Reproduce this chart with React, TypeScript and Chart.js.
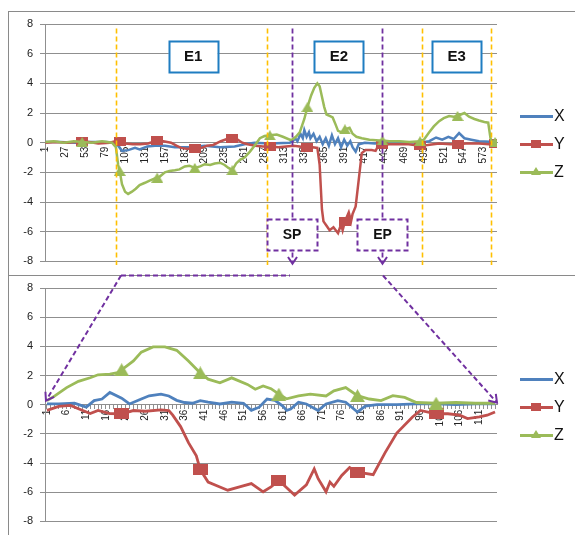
import React, { useEffect, useRef } from 'react';
import { Chart, registerables } from 'chart.js';
Chart.register(...registerables);

// ---------------- data ----------------
const seriesNames = ['X', 'Y', 'Z'];
const seriesColors = ['#4F81BD', '#C0504D', '#9BBB59'];

const topCategoryCount = 590;
const topTickLabels = [1, 27, 53, 79, 105, 131, 157, 183, 209, 235, 261, 287, 313, 339, 365, 391, 417, 443, 469, 495, 521, 547, 573];
const topMarkerIdx = [49, 98, 147, 196, 245, 294, 343, 392, 441, 490, 539, 588];

const topX: [number, number][] = [
  [1, 0.05], [20, 0.05], [40, 0.0], [60, 0.05], [80, 0.05], [92, 0.0], [96, -0.2], [101, -0.55], [109, -0.5], [118, -0.35],
  [124, -0.45], [134, -0.25], [144, -0.2], [157, -0.2], [170, -0.3], [189, -0.3], [209, -0.2], [229, -0.3], [248, -0.25],
  [261, -0.1], [274, 0.0], [294, -0.05], [320, 0.0], [324, 0.1], [327, 0.3], [330, 0.1], [334, 0.6], [337, 0.3], [339, 0.85],
  [342, 0.4], [345, 0.7], [347, 0.3], [351, 0.6], [355, 0.1], [359, 0.4], [363, -0.1], [367, 0.3], [371, -0.2], [375, 0.5],
  [379, -0.1], [383, 0.3], [387, -0.3], [391, 0.2], [395, -0.2], [399, 0.1], [402, -0.3], [406, -0.6], [410, -0.1], [418, 0.0],
  [431, -0.05], [444, 0.0], [463, 0.05], [489, 0.0], [502, 0.1], [511, 0.35], [519, 0.2], [527, 0.4], [534, 0.25], [541, 0.65],
  [548, 0.3], [557, 0.2], [567, 0.1], [590, 0.05],
];
const topY: [number, number][] = [
  [1, 0.0], [15, 0.05], [30, 0.0], [40, 0.05], [49, 0.1], [58, 0.05], [70, -0.05], [85, 0.0], [92, 0.1], [98, 0.1], [105, -0.05],
  [115, -0.1], [125, -0.1], [135, -0.05], [147, 0.15], [155, 0.1], [165, 0.0], [172, -0.2], [178, -0.35], [185, -0.4], [196, -0.4],
  [205, -0.35], [212, -0.2], [220, -0.15], [230, 0.1], [238, 0.25], [245, 0.3], [252, 0.2], [258, 0.0], [265, -0.1], [275, -0.2],
  [285, -0.25], [294, -0.25], [305, -0.3], [315, -0.25], [325, -0.2], [333, -0.25], [343, -0.35], [350, -0.3], [356, -0.35],
  [359, -1.5], [362, -4.5], [364, -5.3], [368, -5.6], [372, -5.9], [377, -5.7], [383, -6.1], [387, -5.5], [389, -5.9], [392, -5.3],
  [397, -4.7], [400, -5.3], [402, -4.8], [406, -4.3], [410, -2.5], [414, -0.7], [419, -0.5], [427, -0.5], [432, -0.55], [436, -0.15],
  [441, -0.15], [450, -0.1], [463, -0.1], [475, -0.1], [490, -0.2], [500, -0.15], [515, -0.05], [530, -0.1], [539, -0.1],
  [550, -0.05], [567, -0.05], [580, -0.1], [588, -0.05], [590, -0.05],
];
const topZ: [number, number][] = [
  [1, 0.05], [12, 0.1], [25, 0.0], [38, 0.1], [49, 0.05], [62, 0.0], [75, 0.1], [88, 0.0], [93, -0.3], [96, -1.5], [98, -1.9],
  [101, -2.8], [105, -3.3], [109, -3.45], [114, -3.3], [119, -3.1], [124, -2.85], [131, -2.7], [137, -2.55], [144, -2.4],
  [147, -2.35], [150, -2.3], [157, -2.0], [163, -1.9], [170, -1.85], [176, -1.8], [183, -1.6], [189, -1.55], [196, -1.7],
  [203, -1.6], [209, -1.45], [216, -1.5], [222, -1.4], [229, -1.35], [235, -1.5], [240, -1.7], [245, -1.85], [250, -1.4],
  [255, -1.15], [261, -1.0], [268, -0.6], [274, -0.2], [281, 0.3], [287, 0.45], [294, 0.5], [303, 0.55], [311, 0.4], [320, 0.2],
  [323, 0.2], [328, 0.4], [333, 0.7], [339, 1.6], [343, 2.4], [348, 3.2], [352, 3.7], [356, 4.0], [359, 3.8], [362, 3.1],
  [365, 2.4], [368, 1.9], [372, 1.8], [376, 1.7], [380, 1.2], [383, 0.8], [388, 0.7], [392, 0.9], [398, 1.0], [402, 0.6],
  [407, 0.4], [414, 0.3], [424, 0.2], [437, 0.15], [441, 0.15], [450, 0.1], [463, 0.1], [476, 0.05], [490, 0.1], [495, 0.2],
  [502, 0.7], [508, 1.1], [515, 1.45], [521, 1.65], [528, 1.8], [534, 1.75], [539, 1.8], [541, 1.85], [548, 2.0], [554, 1.75],
  [561, 1.6], [567, 1.5], [574, 1.4], [579, 1.35], [582, 0.3], [584, 0.05], [588, 0.05], [590, 0.0],
];

// event boundaries (top chart sample index)
const eventBounds = [93, 290, 493, 583];
const eventNames = ['E1', 'E2', 'E3'];
const spIdx = 323;
const epIdx = 441;
const spepNames = ['SP', 'EP'];

const bottomCategoryCount = 115;
const bottomTickLabels = [1, 6, 11, 16, 21, 26, 31, 36, 41, 46, 51, 56, 61, 66, 71, 76, 81, 86, 91, 96, 101, 106, 111];
const bottomMarkerIdx = [20, 40, 60, 80, 100];

const bottomX: [number, number][] = [
  [1, 0.05], [4, 0.05], [8, 0.1], [11, -0.17], [13, 0.28], [15, 0.39], [17, 0.84], [20, 0.45], [22, 0.05], [25, 0.39], [27, 0.61],
  [30, 0.73], [32, 0.6], [34, 0.3], [36, 0.15], [38, 0.1], [40, 0.28], [42, 0.17], [45, 0.05], [48, 0.17], [51, 0.1], [53, -0.39],
  [55, -0.17], [57, 0.39], [59, 0.3], [61, -0.1], [62, -0.39], [63, -0.3], [65, 0.17], [67, 0.05], [70, -0.4], [72, 0.05],
  [75, 0.28], [77, 0.17], [80, -0.5], [82, -0.1], [85, 0.0], [90, 0.0], [95, 0.05], [100, 0.05], [105, 0.0], [110, 0.05], [115, 0.05],
];
const bottomY: [number, number][] = [
  [1, -0.39], [4, -0.12], [7, -0.05], [9, -0.28], [12, -0.61], [14, -0.39], [17, -0.61], [20, -0.62], [23, -0.4], [26, -0.45],
  [30, -0.35], [32, -0.4], [33, -0.72], [35, -1.5], [37, -2.6], [39, -3.5], [40, -4.45], [42, -5.3], [45, -5.64], [47, -5.86],
  [50, -5.64], [53, -5.41], [56, -5.97], [58, -5.64], [60, -5.19], [62, -5.7], [64, -6.2], [67, -5.5], [69, -4.4], [70, -5.07],
  [72, -5.97], [73, -5.3], [74, -5.6], [76, -4.85], [78, -4.3], [80, -4.63], [84, -4.8], [87, -3.3], [90, -1.95], [94, -0.84],
  [96, -0.39], [100, -0.62], [103, -0.62], [106, -0.72], [108, -0.95], [111, -0.84], [113, -0.72], [115, -0.5],
];
const bottomZ: [number, number][] = [
  [1, 0.28], [3, 0.6], [6, 1.17], [9, 1.6], [12, 1.85], [14, 2.05], [17, 2.1], [19, 2.2], [20, 2.4], [21, 2.6], [23, 3.0],
  [25, 3.6], [28, 3.96], [31, 3.96], [34, 3.73], [37, 3.0], [40, 2.18], [42, 1.75], [45, 1.5], [48, 1.84], [52, 1.39],
  [54, 1.06], [56, 1.28], [58, 1.1], [60, 0.72], [62, 0.4], [65, 0.6], [68, 0.72], [72, 0.6], [74, 0.95], [77, 1.17],
  [80, 0.62], [83, 0.39], [86, 0.28], [89, 0.62], [92, 0.5], [95, 0.15], [100, 0.1], [105, 0.15], [110, 0.1], [115, 0.1],
];

// ---------------- layout / style ----------------
const FONT = '"Liberation Sans", Arial, sans-serif';
const GRID = '#8f8f8f';
const PURPLE = '#7030A0';
const YELLOW = '#FFC000';
const EBLUE = '#1F7DC1';
const W = 575;
const TOP_CANVAS = { top: 0, height: 275 };
const BOT_CANVAS = { top: 272, height: 263 };
const PLOT_LEFT = 45;
const PLOT_RIGHT = 497;
const ANNO = {
  lineTopValue: 7.7,
  lineBottomValue: -8.25,
  arrowTipValue: -8.15,
  eventLabelIdx: [194, 384, 538],
  eventLabelValue: 5.82,
  eventBox: [49, 31],
  spepValue: -6.16,
  spepBox: [50, 31],
  connectorY: 3.5,
  connectorLeftX: 121,
  connectorMidX: 290,
  connectorRightX: 383,
};

function toPts(arr: [number, number][]) {
  return arr.map(([x, y]) => ({ x, y }));
}

function makeRect(w: number, h: number, color: string) {
  const c = document.createElement('canvas');
  c.width = w; c.height = h;
  const g = c.getContext('2d')!;
  g.fillStyle = color; g.fillRect(0, 0, w, h);
  return c;
}
function makeTri(w: number, h: number, color: string) {
  const c = document.createElement('canvas');
  c.width = w; c.height = h;
  const g = c.getContext('2d')!;
  g.fillStyle = color;
  g.beginPath(); g.moveTo(w / 2, 0); g.lineTo(w, h); g.lineTo(0, h); g.closePath(); g.fill();
  return c;
}

function arrowHead(ctx: CanvasRenderingContext2D, x0: number, y0: number, x1: number, y1: number, len: number) {
  const a = Math.atan2(y1 - y0, x1 - x0);
  ctx.beginPath();
  ctx.moveTo(x1 - len * Math.cos(a - 0.6), y1 - len * Math.sin(a - 0.6));
  ctx.lineTo(x1, y1);
  ctx.lineTo(x1 - len * Math.cos(a + 0.6), y1 - len * Math.sin(a + 0.6));
  ctx.stroke();
}

function labelBox(ctx: CanvasRenderingContext2D, cx: number, cy: number, w: number, h: number, color: string, dashed: boolean, text: string, size: number) {
  ctx.save();
  ctx.fillStyle = '#ffffff';
  ctx.fillRect(cx - w / 2, cy - h / 2, w, h);
  ctx.strokeStyle = color;
  ctx.lineWidth = 2;
  ctx.setLineDash(dashed ? [5, 3] : []);
  ctx.strokeRect(Math.round(cx - w / 2) + 0.5, Math.round(cy - h / 2) + 0.5, w, h);
  ctx.fillStyle = '#111';
  ctx.font = `bold ${size}px ${FONT}`;
  ctx.textAlign = 'center';
  ctx.textBaseline = 'middle';
  ctx.fillText(text, cx, cy + 1);
  ctx.restore();
}

const topAnnoPlugin = {
  id: 'topAnno',
  afterDraw(chart: any) {
    const { ctx } = chart;
    const xs = chart.scales.x;
    const ys = chart.scales.y;
    ctx.save();
    ctx.lineWidth = 1.6;
    ctx.setLineDash([5, 3]);
    ctx.strokeStyle = YELLOW;
    eventBounds.forEach((v) => {
      const px = Math.round(xs.getPixelForValue(v)) + 0.5;
      ctx.beginPath();
      ctx.moveTo(px, ys.getPixelForValue(ANNO.lineTopValue));
      ctx.lineTo(px, ys.getPixelForValue(ANNO.lineBottomValue));
      ctx.stroke();
    });
    ctx.strokeStyle = PURPLE;
    ctx.lineWidth = 1.8;
    const tip = ys.getPixelForValue(ANNO.arrowTipValue);
    [spIdx, epIdx].forEach((v) => {
      const px = Math.round(xs.getPixelForValue(v)) + 0.5;
      ctx.setLineDash([5, 3]);
      ctx.beginPath();
      ctx.moveTo(px, ys.getPixelForValue(ANNO.lineTopValue));
      ctx.lineTo(px, tip - 1);
      ctx.stroke();
      ctx.setLineDash([]);
      ctx.lineWidth = 2;
      arrowHead(ctx, px, tip - 20, px, tip, 8);
      ctx.lineWidth = 1.8;
    });
    ctx.restore();
    eventNames.forEach((name, i) => {
      labelBox(ctx, xs.getPixelForValue(ANNO.eventLabelIdx[i]), ys.getPixelForValue(ANNO.eventLabelValue),
        ANNO.eventBox[0], ANNO.eventBox[1], EBLUE, false, name, 15);
    });
    [spIdx, epIdx].forEach((v, i) => {
      labelBox(ctx, xs.getPixelForValue(v), ys.getPixelForValue(ANNO.spepValue),
        ANNO.spepBox[0], ANNO.spepBox[1], PURPLE, true, spepNames[i], 14);
    });
  },
};

const bottomAnnoPlugin = {
  id: 'bottomAnno',
  afterDraw(chart: any) {
    const { ctx } = chart;
    const xs = chart.scales.x;
    const ys = chart.scales.y;
    const y0 = ys.getPixelForValue(0);
    ctx.save();
    ctx.strokeStyle = PURPLE;
    ctx.lineWidth = 2;
    ctx.setLineDash([5, 3]);
    const cy = ANNO.connectorY;
    ctx.beginPath();
    ctx.moveTo(ANNO.connectorLeftX, cy);
    ctx.lineTo(ANNO.connectorMidX, cy);
    ctx.stroke();
    const lx = xs.getPixelForValue(1) - 1;
    const ly = y0 - 4;
    ctx.beginPath(); ctx.moveTo(ANNO.connectorLeftX, cy); ctx.lineTo(lx, ly); ctx.stroke();
    const rx = xs.right;
    const ry = y0 - 2;
    ctx.beginPath(); ctx.moveTo(ANNO.connectorRightX, cy); ctx.lineTo(rx, ry); ctx.stroke();
    ctx.setLineDash([]);
    arrowHead(ctx, ANNO.connectorLeftX, cy, lx, ly, 9);
    arrowHead(ctx, ANNO.connectorRightX, cy, rx, ry, 9);
    ctx.restore();
  },
};

function makeOptions(kind: 'top' | 'bottom') {
  const isTop = kind === 'top';
  const canvasH = isTop ? TOP_CANVAS.height : BOT_CANVAS.height;
  const plotTop = isTop ? 24 : 16;
  const plotBottom = isTop ? 262.5 : 255;
  const count = isTop ? topCategoryCount : bottomCategoryCount;
  return {
    responsive: false,
    animation: false,
    events: [],
    layout: { padding: { left: 0, top: plotTop, right: W - PLOT_RIGHT, bottom: canvasH - plotBottom } },
    plugins: { legend: { display: false }, tooltip: { enabled: false } },
    scales: {
      x: {
        type: 'linear',
        position: { y: 0 },
        min: 0.5,
        max: count + 0.5,
        afterBuildTicks: (s: any) => {
          s.ticks = isTop
            ? topTickLabels.map((v) => ({ value: v }))
            : Array.from({ length: bottomCategoryCount }, (_, i) => ({ value: i + 1 }));
        },
        ticks: {
          autoSkip: false,
          minRotation: 90,
          maxRotation: 90,
          padding: isTop ? 4 : 1,
          color: '#222',
          font: { family: FONT, size: 10 },
          callback: (v: number) => (isTop ? String(v) : bottomTickLabels.includes(v) ? String(v) : ''),
        },
        grid: { drawOnChartArea: false, drawTicks: !isTop, tickLength: 4, color: GRID },
        border: { color: GRID, width: 1 },
      },
      y: {
        min: -8,
        max: 8,
        afterFit: (s: any) => { s.width = PLOT_LEFT; },
        ticks: { stepSize: 2, padding: 7, color: '#222', font: { family: FONT, size: 11 } },
        grid: { color: GRID, tickLength: 5, lineWidth: 1 },
        border: { color: GRID, width: 1 },
      },
    },
  };
}

function makeDatasets(kind: 'top' | 'bottom') {
  const isTop = kind === 'top';
  const sets = isTop ? [topX, topY, topZ] : [bottomX, bottomY, bottomZ];
  const markers = new Set(isTop ? topMarkerIdx : bottomMarkerIdx);
  const rect = isTop ? makeRect(12, 9, seriesColors[1]) : makeRect(15, 11, seriesColors[1]);
  const tri = isTop ? makeTri(12, 10, seriesColors[2]) : makeTri(15, 13, seriesColors[2]);
  return sets.map((arr, i) => ({
    label: seriesNames[i],
    data: toPts(arr),
    borderColor: seriesColors[i],
    backgroundColor: seriesColors[i],
    borderWidth: isTop ? 2.5 : 2.8,
    tension: 0,
    order: 2 - i,
    pointStyle: i === 1 ? rect : i === 2 ? tri : 'circle',
    pointRadius: (c: any) => (i > 0 && c.raw && markers.has(c.raw.x) ? 5 : 0),
  }));
}

function ChartCanvas({ kind, top, height }: { kind: 'top' | 'bottom'; top: number; height: number }) {
  const ref = useRef<HTMLCanvasElement | null>(null);
  useEffect(() => {
    if (!ref.current) return;
    const chart = new Chart(ref.current, {
      type: 'line',
      data: { datasets: makeDatasets(kind) as any },
      options: makeOptions(kind) as any,
      plugins: [kind === 'top' ? topAnnoPlugin : bottomAnnoPlugin],
    });
    return () => chart.destroy();
  }, [kind]);
  return (
    <canvas ref={ref} width={W} height={height}
      style={{ position: 'absolute', left: 0, top, width: W, height }} />
  );
}

function Legend({ top }: { top: number }) {
  return (
    <>
      {seriesNames.map((name, i) => {
        const cy = top + i * 28;
        return (
          <React.Fragment key={name}>
            <div style={{ position: 'absolute', left: 520, top: cy - 1.5, width: 33, height: 3, background: seriesColors[i] }} />
            {i === 1 && (
              <div style={{ position: 'absolute', left: 531, top: cy - 4, width: 10, height: 8, background: seriesColors[1] }} />
            )}
            {i === 2 && (
              <div style={{
                position: 'absolute', left: 531, top: cy - 5, width: 0, height: 0,
                borderLeft: '5px solid transparent', borderRight: '5px solid transparent',
                borderBottom: `8px solid ${seriesColors[2]}`,
              }} />
            )}
            <div style={{
              position: 'absolute', left: 554, top: cy - 10, height: 20, lineHeight: '20px',
              fontFamily: FONT, fontSize: 16, color: '#111',
            }}>{name}</div>
          </React.Fragment>
        );
      })}
    </>
  );
}

export default function App() {
  return (
    <div style={{ position: 'absolute', left: 0, top: 0, width: W, height: 535, overflow: 'hidden', background: '#fff' }}>
      <div style={{ position: 'absolute', left: 8, top: 11, width: 600, height: 264, borderTop: '1px solid #8a8a8a', borderLeft: '1px solid #8a8a8a' }} />
      <div style={{ position: 'absolute', left: 8, top: 275, width: 600, height: 300, borderTop: '1px solid #8a8a8a', borderLeft: '1px solid #8a8a8a' }} />
      <ChartCanvas kind="top" top={TOP_CANVAS.top} height={TOP_CANVAS.height} />
      <ChartCanvas kind="bottom" top={BOT_CANVAS.top} height={BOT_CANVAS.height} />
      <Legend top={116} />
      <Legend top={379} />
    </div>
  );
}
